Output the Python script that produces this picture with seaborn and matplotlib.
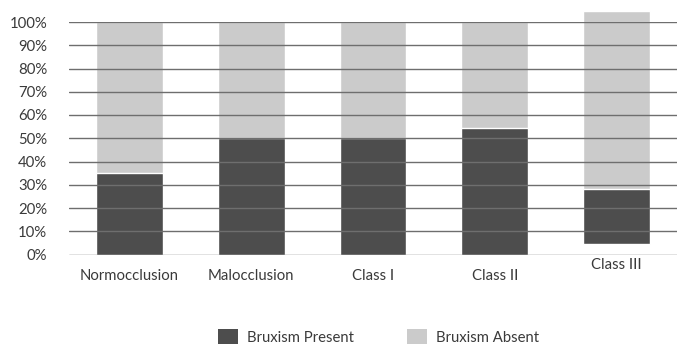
import matplotlib
matplotlib.use("Agg")
import matplotlib.pyplot as plt
import matplotlib.transforms as mtransforms
from matplotlib.patches import Patch
from matplotlib.ticker import FuncFormatter, MultipleLocator
import seaborn as sns

# Share of patients with and without bruxism per occlusion group (%)
categories = ["Normocclusion", "Malocclusion", "Class I", "Class II", "Class III"]
bruxism_present = [35, 50, 50, 54.5, 23.5]
bruxism_absent = [65, 50, 50, 45.5, 76.5]
# Vertical baseline of each stacked column (%)
baseline = [0, 0, 0, 0, 4.6]
series_names = ["Bruxism Present", "Bruxism Absent"]

dark = "#4d4d4d"
light = "#cbcbcb"
text_color = "#3a3a3a"
font_size = 10.7

sns.set_theme(style="white")
plt.rcParams["font.family"] = ["Lato", "DejaVu Sans"]

fig = plt.figure(figsize=(6.78, 3.46), dpi=100)
ax = fig.add_axes([68.6 / 678, (346 - 254.5) / 346, (677.4 - 68.6) / 678, (254.5 - 22) / 346])

totals = [p + a for p, a in zip(bruxism_present, bruxism_absent)]
sns.barplot(x=categories, y=totals, bottom=baseline, color=light, saturation=1,
            width=0.55, ax=ax, clip_on=False)
sns.barplot(x=categories, y=bruxism_present, bottom=baseline, color=dark, saturation=1,
            width=0.55, ax=ax, clip_on=False)

ax.set_ylim(0, 100)
ax.set_xlim(-0.5, len(categories) - 0.5)
ax.yaxis.set_major_locator(MultipleLocator(10))
ax.yaxis.set_major_formatter(FuncFormatter(lambda v, _: f"{int(round(v))}%"))
ax.set_axisbelow(False)
ax.yaxis.grid(True, color="#6e6e6e", linewidth=1.0)
ax.xaxis.grid(False)
for s in ax.spines.values():
    s.set_visible(False)
ax.tick_params(axis="y", length=0, pad=15.5, labelsize=font_size, labelcolor=text_color)
ax.tick_params(axis="x", length=0, pad=10.5, labelsize=font_size, labelcolor=text_color)
ax.set_xlabel("")
ax.set_ylabel("")

# Lift each category label along with its column baseline
px_per_unit = (254.5 - 22) / 100
for lbl, b in zip(ax.get_xticklabels(), baseline):
    if b:
        lbl.set_transform(lbl.get_transform() + mtransforms.ScaledTranslation(
            0, b * px_per_unit / 100, fig.dpi_scale_trans))

handles = [Patch(facecolor=dark, edgecolor="none"), Patch(facecolor=light, edgecolor="none")]
fig.legend(handles, series_names, loc="center", bbox_to_anchor=(0.558, 0.026), ncol=2,
           frameon=False, fontsize=font_size, handlelength=1.34, handleheight=1.2,
           handletextpad=0.6, columnspacing=3.6, labelcolor=text_color,
           borderpad=0, borderaxespad=0)

fig.savefig("out.png", dpi=100)
